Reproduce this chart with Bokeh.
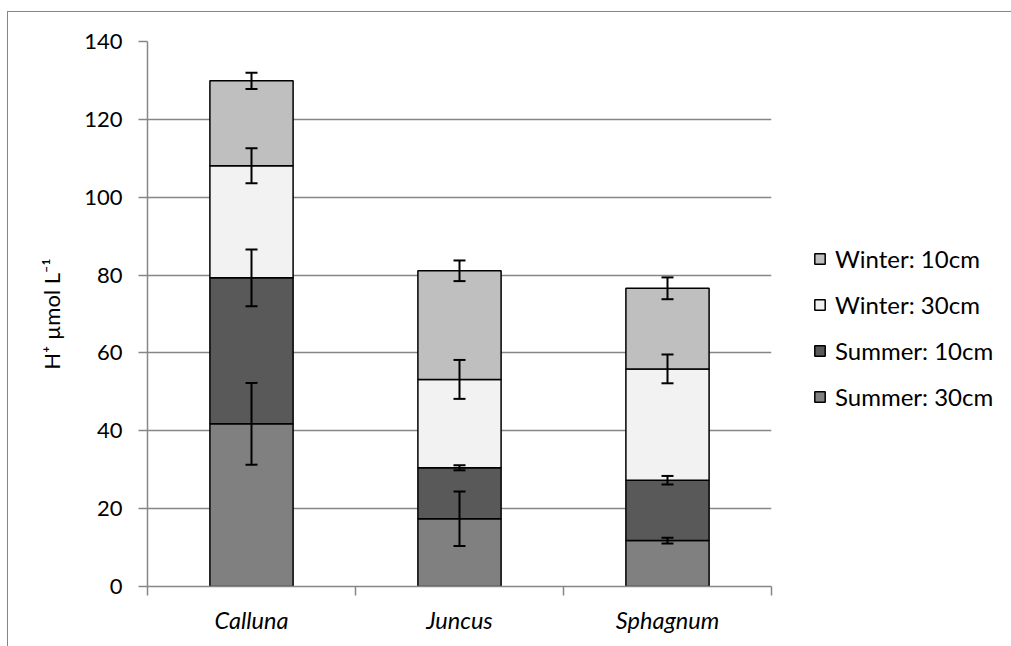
import numpy as np
from bokeh.plotting import figure
from bokeh.models import (ColumnDataSource, FixedTicker, Legend, LegendItem,
                          Whisker, TeeHead, Range1d)
from bokeh.embed import file_html
from bokeh.resources import INLINE

# ---- data ----
categories = ["Calluna", "Juncus", "Sphagnum"]
series_names = ["Summer: 30cm", "Summer: 10cm", "Winter: 30cm", "Winter: 10cm"]
summer_30 = [41.8, 17.4, 11.8]
summer_10 = [37.5, 13.1, 15.5]
winter_30 = [28.8, 22.7, 28.6]
winter_10 = [21.8, 27.9, 20.7]
err_summer_30 = [10.5, 7.0, 0.75]
err_summer_10 = [7.3, 0.65, 1.1]
err_winter_30 = [4.5, 5.0, 3.7]
err_winter_10 = [2.1, 2.65, 2.8]
y_ticks = [0, 20, 40, 60, 80, 100, 120, 140]

colors = ["#808080", "#595959", "#f2f2f2", "#bfbfbf"]
FONT = "Lato"

series = [summer_30, summer_10, winter_30, winter_10]
errors = [err_summer_30, err_summer_10, err_winter_30, err_winter_10]

x = np.arange(len(categories)) + 0.5

p = figure(frame_width=624, frame_height=545,
           min_border_left=139, min_border_right=232,
           min_border_top=29, min_border_bottom=60,
           x_range=Range1d(0, 3), y_range=Range1d(0, 140),
           output_backend="svg", toolbar_location=None)
p.styles = {"margin-left": "7px", "margin-top": "11px",
            "border-left": "1px solid #868686", "border-top": "1px solid #868686"}
p.outline_line_color = None
p.background_fill_color = "white"
p.border_fill_color = "white"

# grid
p.xgrid.visible = False
p.ygrid.ticker = FixedTicker(ticks=y_ticks)
p.ygrid.grid_line_color = "#868686"
p.ygrid.grid_line_width = 1.5

# y axis
ya = p.yaxis[0]
ya.ticker = FixedTicker(ticks=y_ticks)
ya.axis_line_color = "#868686"
ya.axis_line_width = 1.5
ya.major_tick_line_color = "#868686"
ya.major_tick_line_width = 1.5
ya.major_tick_out = 9
ya.major_tick_in = 0
ya.minor_tick_line_color = None
ya.major_label_text_font = FONT
ya.major_label_text_font_size = "22px"
ya.major_label_text_color = "black"
ya.major_label_standoff = 16
ya.axis_label = "H⁺ µmol L⁻¹"
ya.axis_label_text_font = FONT
ya.axis_label_text_font_size = "22px"
ya.axis_label_text_font_style = "normal"
ya.axis_label_text_color = "black"
ya.axis_label_standoff = 16

# x axis
xa = p.xaxis[0]
xa.ticker = FixedTicker(ticks=list(x), minor_ticks=list(range(len(categories) + 1)))
xa.major_label_overrides = {float(v): c for v, c in zip(x, categories)}
xa.axis_line_color = "#868686"
xa.axis_line_width = 1.5
xa.major_tick_line_color = None
xa.major_tick_out = 0
xa.major_tick_in = 0
xa.minor_tick_line_color = "#868686"
xa.minor_tick_line_width = 1.5
xa.minor_tick_out = 9
xa.minor_tick_in = 0
xa.major_label_text_font = FONT
xa.major_label_text_font_size = "23.5px"
xa.major_label_text_font_style = "italic"
xa.major_label_text_color = "black"
xa.major_label_standoff = 10

# bars
bottom = np.zeros(len(categories))
renderers = []
whisker_data = []
for name, vals, errs, col in zip(series_names, series, errors, colors):
    vals = np.array(vals, dtype=float)
    top = bottom + vals
    src = ColumnDataSource(dict(x=x, bottom=bottom.copy(), top=top,
                                upper=top + np.array(errs), lower=top - np.array(errs)))
    r = p.vbar(x="x", bottom="bottom", top="top", width=0.4, source=src,
               fill_color=col, line_color="black", line_width=1.5)
    renderers.append((name, r))
    whisker_data.append(src)
    bottom = top

for src in whisker_data:
    w = Whisker(base="x", upper="upper", lower="lower", source=src,
                level="overlay",
                line_color="black", line_width=2,
                upper_head=TeeHead(size=12, line_color="black", line_width=2),
                lower_head=TeeHead(size=12, line_color="black", line_width=2))
    p.add_layout(w)

items = [LegendItem(label=n, renderers=[r]) for n, r in reversed(renderers)]
legend = Legend(items=items, location=(42, 175),
                label_text_font=FONT, label_text_font_size="24px",
                label_text_color="black",
                glyph_width=13, glyph_height=13, label_standoff=9,
                spacing=17, padding=0, margin=0,
                border_line_alpha=0, background_fill_alpha=0)
p.add_layout(legend, "right")

open("out.html", "w").write(file_html(p, INLINE))
